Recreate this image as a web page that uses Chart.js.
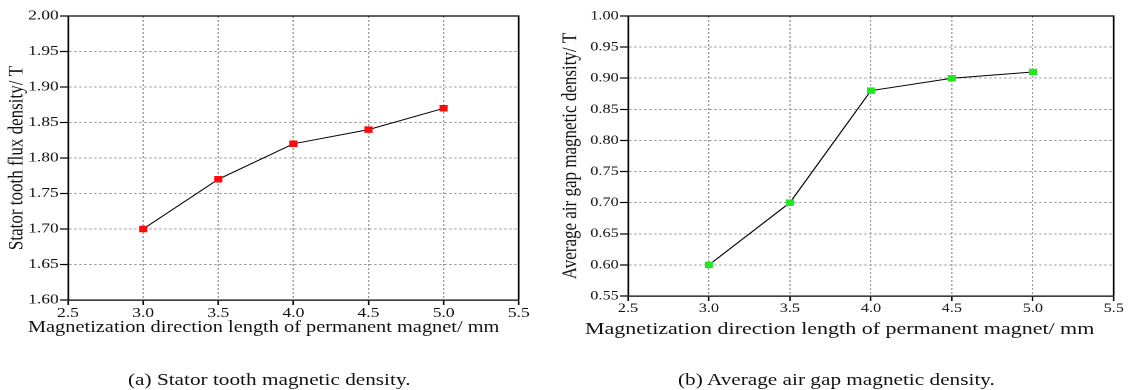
<!DOCTYPE html>
<html>
<head>
<meta charset="utf-8">
<script src="https://cdn.jsdelivr.net/npm/chart.js@4.4.0/dist/chart.umd.min.js"></script>
<style>
  html, body { margin: 0; padding: 0; background: #fff; }
  body { width: 1128px; height: 390px; position: relative; overflow: hidden; font-family: "Liberation Serif", "Times New Roman", serif; color: #111; }
  /* the original figure is stretched sideways, so each panel is too */
  .panel { position: absolute; top: 0; height: 390px; transform: scaleX(1.25); transform-origin: 0 0; }
  .plot { position: absolute; left: 0; top: 0; height: 320px; }
  .xtitle, .caption { position: absolute; white-space: nowrap; line-height: 1; }
</style>
</head>
<body>
<div class="panel" style="left:0;width:448px">
  <div class="plot" style="width:448px"><canvas id="chartA"></canvas></div>
  <div class="xtitle" style="left:22.4px;top:319px;font-size:16.3px">Magnetization direction length of permanent magnet/ mm</div>
  <div class="caption" style="left:102.4px;top:371px;font-size:17px">(a) Stator tooth magnetic density.</div>
</div>
<div class="panel" style="left:560px;width:454px">
  <div class="plot" style="width:454px"><canvas id="chartB"></canvas></div>
  <div class="xtitle" style="left:20px;top:320px;font-size:17.6px">Magnetization direction length of permanent magnet/ mm</div>
  <div class="caption" style="left:94.4px;top:371px;font-size:17px">(b) Average air gap magnetic density.</div>
</div>
<script>
// magnet length (mm) on the x axis
var magnetLength = [3.0, 3.5, 4.0, 4.5, 5.0];
var xTickValues = [2.5, 3.0, 3.5, 4.0, 4.5, 5.0, 5.5];

// (a) stator tooth flux density, T
var toothFlux = [1.70, 1.77, 1.82, 1.84, 1.87];
var toothTicks = [1.60, 1.65, 1.70, 1.75, 1.80, 1.85, 1.90, 1.95, 2.00];

// (b) average air gap flux density, T
var airGapFlux = [0.60, 0.70, 0.88, 0.90, 0.91];
var airGapTicks = [0.55, 0.60, 0.65, 0.70, 0.75, 0.80, 0.85, 0.90, 0.95, 1.00];

var SERIF = '"Liberation Serif", "Times New Roman", serif';

// top and right edge of the box round the plot
var frame = {
    id: 'frame',
    afterDraw: function(chart) {
        var a = chart.chartArea;
        var ctx = chart.ctx;
        ctx.save();
        ctx.strokeStyle = '#000';
        ctx.lineWidth = 1.3;
        ctx.beginPath();
        ctx.moveTo(a.left, a.top);
        ctx.lineTo(a.right, a.top);
        ctx.lineTo(a.right, a.bottom);
        ctx.stroke();
        ctx.restore();
    }
};

function fixedTicks(values) {
    return function(scale) {
        scale.ticks = values.map(function(v) { return {value: v}; });
    };
}

function makeChart(id, values, yTicks, color, cfg) {
    var ctx = document.getElementById(id).getContext('2d');
    var points = magnetLength.map(function(x, i) { return {x: x, y: values[i]}; });

    return new Chart(ctx, {
        type: 'line',
        data: {
            datasets: [{
                data: points,
                borderColor: '#000',
                borderWidth: 1,
                tension: 0,
                pointStyle: 'rect',
                pointRadius: 4.6,
                pointBackgroundColor: color,
                pointBorderColor: color,
                pointBorderWidth: 0
            }]
        },
        options: {
            responsive: true,
            maintainAspectRatio: false,
            devicePixelRatio: 2,
            animation: false,
            layout: {padding: {top: 16, right: cfg.padRight, left: 0, bottom: 0}},
            plugins: {legend: {display: false}, tooltip: {enabled: false}},
            scales: {
                x: {
                    type: 'linear',
                    min: xTickValues[0],
                    max: xTickValues[xTickValues.length - 1],
                    afterBuildTicks: fixedTicks(xTickValues),
                    afterFit: function(scale) { scale.height = cfg.xHeight; },
                    grid: {color: '#9a9a9a', lineWidth: 1, tickColor: '#000', tickWidth: 1.2, tickLength: 5},
                    border: {color: '#000', width: 1.3, dash: [2, 2]},
                    ticks: {
                        autoSkip: false, maxRotation: 0, padding: 0, color: '#111',
                        font: {family: SERIF, size: cfg.tickSize},
                        callback: function(v) { return v.toFixed(1); }
                    }
                },
                y: {
                    type: 'linear',
                    min: yTicks[0],
                    max: yTicks[yTicks.length - 1],
                    afterBuildTicks: fixedTicks(yTicks),
                    afterFit: function(scale) { scale.width = 54.4; },
                    grid: {color: '#9a9a9a', lineWidth: 1, tickColor: '#000', tickWidth: 1.2, tickLength: 6.4},
                    border: {color: '#000', width: 1.3, dash: [2, 2]},
                    ticks: {
                        autoSkip: false, padding: 1, color: '#111',
                        font: {family: SERIF, size: cfg.tickSize},
                        callback: function(v) { return v.toFixed(2); }
                    },
                    title: {
                        display: true,
                        text: cfg.yTitle,
                        color: '#111',
                        padding: {top: cfg.yTitlePad, bottom: 0},
                        font: {family: SERIF, size: 17, lineHeight: 1}
                    }
                }
            }
        },
        plugins: [frame]
    });
}

makeChart('chartA', toothFlux, toothTicks, '#ff0a0a', {
    yTitle: 'Stator tooth flux density/ T', padRight: 33, xHeight: 20, tickSize: 14, yTitlePad: 5
});
makeChart('chartB', airGapFlux, airGapTicks, '#22e622', {
    yTitle: 'Average air gap magnetic density/ T', padRight: 11, xHeight: 24, tickSize: 13, yTitlePad: 0
});
</script>
</body>
</html>
